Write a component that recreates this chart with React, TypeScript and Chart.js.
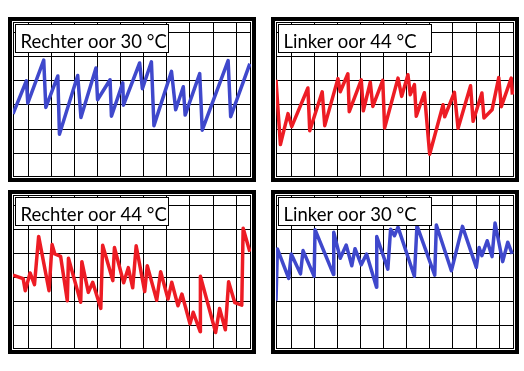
import React, { useEffect, useRef } from "react";
import { Chart, registerables } from "chart.js";

Chart.register(...registerables);

const BLUE = "#3F48CC";
const RED = "#ED1C24";

// grid lines (in grid-cell units)
const gridX = [0.66, 1.66, 2.66, 3.66, 4.66, 5.66, 6.66, 7.66, 8.66, 9.66];
const gridY = [1, 2, 3, 4, 5, 6];
const X_MAX = 10.3;

const titles = ["Rechter oor 30 °C", "Linker oor 44 °C", "Rechter oor 44 °C", "Linker oor 30 °C"];

const rechter30Tijd = [0, 0.58, 0.64, 1.33, 1.42, 1.94, 2.01, 2.8, 2.94, 3.59, 3.66, 4.2, 4.26, 4.75, 4.78, 5.48, 5.6, 5.99, 6.1, 6.86, 7.04, 7.37, 7.45, 8.08, 8.19, 9.31, 9.42, 10.25];
const rechter30Waarde = [2.63, 4.01, 3.08, 4.87, 2.9, 4.21, 1.78, 4.23, 2.48, 4.54, 3.22, 4.05, 2.53, 3.92, 2.99, 4.75, 3.68, 4.8, 2.14, 4.4, 2.8, 3.76, 2.58, 4.31, 1.95, 4.85, 2.51, 4.72];

const linker44Tijd = [0, 0.19, 0.52, 0.68, 1.38, 1.46, 2.0, 2.11, 2.68, 2.78, 3.11, 3.17, 3.69, 3.78, 4.08, 4.19, 4.62, 4.7, 5.28, 5.44, 5.71, 5.81, 5.99, 6.07, 6.42, 6.65, 7.23, 7.3, 7.72, 7.88, 8.42, 8.53, 8.91, 9.0, 9.35, 9.64, 9.75, 10.18, 10.23];
const linker44Waarde = [4.05, 1.35, 2.64, 2.1, 3.71, 1.93, 3.55, 2.14, 4.1, 3.55, 4.3, 2.72, 4.05, 2.76, 3.95, 2.94, 4.03, 2.04, 4.12, 3.36, 4.26, 3.43, 3.85, 2.53, 3.51, 0.95, 3.01, 2.51, 3.53, 2.03, 3.8, 2.32, 3.5, 2.46, 2.8, 4.14, 2.93, 4.12, 3.43];

const rechter44Tijd = [0, 0.44, 0.53, 0.74, 0.93, 1.11, 1.56, 1.69, 1.81, 2.06, 2.35, 2.4, 2.93, 2.98, 3.26, 3.45, 3.8, 3.88, 4.32, 4.39, 4.79, 4.99, 5.18, 5.33, 5.7, 5.81, 6.22, 6.39, 6.71, 6.87, 7.14, 7.31, 7.66, 7.8, 8.1, 8.11, 8.77, 8.94, 9.19, 9.33, 9.6, 9.9, 9.96, 10.25];
const rechter44Waarde = [3.08, 2.93, 2.43, 3.17, 2.68, 4.69, 2.43, 4.35, 3.96, 3.86, 2.01, 3.78, 1.95, 3.64, 2.36, 2.78, 1.69, 4.32, 2.85, 4.23, 2.76, 3.39, 2.55, 4.3, 2.39, 3.47, 2.03, 3.22, 2.08, 2.78, 1.8, 2.29, 1.05, 1.53, 0.72, 3.03, 0.69, 1.69, 0.8, 2.8, 1.93, 1.83, 5.03, 4.05];

const linker30Tijd = [0, 0.06, 0.55, 0.66, 1.06, 1.17, 1.65, 1.69, 2.49, 2.5, 2.78, 3.04, 3.28, 3.42, 3.69, 3.92, 4.35, 4.36, 4.84, 4.96, 5.13, 5.28, 5.99, 6.1, 6.87, 6.94, 7.59, 8.07, 8.67, 8.79, 8.91, 9.14, 9.35, 9.48, 9.81, 10.03, 10.22];
const linker30Waarde = [2.01, 4.17, 2.94, 3.96, 3.13, 4.1, 3.03, 4.97, 3.1, 4.86, 3.78, 4.33, 3.47, 4.18, 3.51, 3.96, 2.57, 4.69, 3.33, 4.99, 4.72, 5.08, 3.03, 5.14, 3.08, 5.17, 3.26, 5.11, 3.4, 4.23, 3.89, 4.51, 3.85, 5.25, 3.64, 4.45, 3.96];

const framePlugin = {
  id: "frame",
  beforeDatasetsDraw(chart: any) {
    const { ctx, chartArea: a } = chart;
    ctx.save();
    ctx.strokeStyle = "#000";
    ctx.lineWidth = 1;
    ctx.strokeRect(a.left + 0.5, a.top + 0.5, a.right - a.left - 1, a.bottom - a.top - 1);
    ctx.restore();
  },
};

function makeLabelPlugin(title: string) {
  return {
    id: "labelBox",
    afterDraw(chart: any) {
      const { ctx, chartArea: a } = chart;
      const x = a.left + 2;
      const y = a.top + 2;
      ctx.save();
      ctx.fillStyle = "#fff";
      ctx.fillRect(x, y, 154, 29);
      ctx.strokeStyle = "#000";
      ctx.lineWidth = 1;
      ctx.strokeRect(x + 0.5, y + 0.5, 153, 28);
      ctx.fillStyle = "#000";
      ctx.font = "18.5px Lato";
      ctx.textBaseline = "alphabetic";
      ctx.fillText(title, x + 5.5, y + 24);
      ctx.restore();
    },
  };
}

function Panel(props: { left: number; top: number; height: number; title: string; tijd: number[]; waarde: number[]; color: string }) {
  const ref = useRef<HTMLCanvasElement | null>(null);
  const { left, top, height, title, tijd, waarde, color } = props;
  const cw = 240;
  const ch = height - 8;
  useEffect(() => {
    const yMax = (ch - 2) / 24;
    const chart = new Chart(ref.current as HTMLCanvasElement, {
      type: "line",
      data: {
        datasets: [
          {
            data: tijd.map((t, i) => ({ x: t, y: waarde[i] })),
            borderColor: color,
            borderWidth: 3.5,
            pointRadius: 0,
            tension: 0,
            fill: false,
            borderJoinStyle: "round",
          },
        ],
      },
      options: {
        responsive: false,
        animation: false,
        devicePixelRatio: 1,
        layout: { padding: 1 },
        plugins: { legend: { display: false }, tooltip: { enabled: false } },
        scales: {
          x: {
            type: "linear",
            min: 0,
            max: X_MAX,
            afterBuildTicks: (s: any) => {
              s.ticks = gridX.map((v) => ({ value: v }));
            },
            ticks: { display: false },
            grid: { color: "#000", lineWidth: 1, drawTicks: false },
            border: { display: false },
          },
          y: {
            type: "linear",
            min: 0,
            max: yMax,
            afterBuildTicks: (s: any) => {
              s.ticks = gridY.map((v) => ({ value: v }));
            },
            ticks: { display: false },
            grid: { color: "#000", lineWidth: 1, drawTicks: false },
            border: { display: false },
          },
        },
      } as any,
      plugins: [framePlugin, makeLabelPlugin(title)],
    });
    return () => chart.destroy();
  }, []);
  return (
    <div
      style={{
        position: "absolute",
        left,
        top,
        width: 248,
        height,
        border: "4px solid #000",
        boxSizing: "border-box",
        background: "#fff",
      }}
    >
      <canvas ref={ref} width={cw} height={ch} style={{ display: "block", width: cw, height: ch }} />
    </div>
  );
}

export default function App() {
  return (
    <div style={{ position: "absolute", left: 0, top: 0, width: 524, height: 371, background: "#fff" }}>
      <Panel left={8} top={17} height={165} title={titles[0]} tijd={rechter30Tijd} waarde={rechter30Waarde} color={BLUE} />
      <Panel left={271} top={17} height={165} title={titles[1]} tijd={linker44Tijd} waarde={linker44Waarde} color={RED} />
      <Panel left={8} top={190} height={164} title={titles[2]} tijd={rechter44Tijd} waarde={rechter44Waarde} color={RED} />
      <Panel left={271} top={190} height={164} title={titles[3]} tijd={linker30Tijd} waarde={linker30Waarde} color={BLUE} />
    </div>
  );
}
